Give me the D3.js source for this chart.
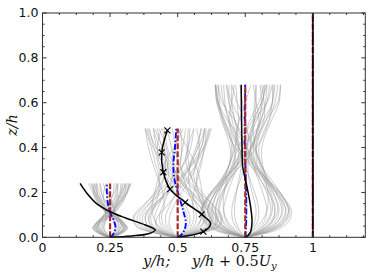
<!DOCTYPE html>
<html>
<head>
<meta charset="utf-8">
<script src="https://cdn.jsdelivr.net/npm/d3@7"></script>
<style>
  body { margin: 0; background: #fff; }
  svg { display: block; }
  .tick-label { font-family: "DejaVu Sans", sans-serif; font-size: 12.5px; fill: #111; }
  .math { font-family: "DejaVu Serif", serif; font-style: italic; font-size: 14.5px; fill: #111; }
</style>
</head>
<body>
<svg id="chart" width="374" height="280"></svg>
<script>
// profile stations (y/h) and their heights (z/h)
var centers = [0.25, 0.5, 0.75, 1.0];
var heights = [0.24, 0.485, 0.68, 1.0];

var xTicks = [0, 0.25, 0.5, 0.75, 1];
var xTickLabels = ["0", "0.25", "0.5", "0.75", "1"];
var yTicks = [0, 0.2, 0.4, 0.6, 0.8, 1.0];
var yTickLabels = ["0.0", "0.2", "0.4", "0.6", "0.8", "1.0"];

// gray realisations: offsets from the station, at the listed z levels
var grayZ1 = [0, 0.015, 0.04, 0.065, 0.09, 0.115, 0.15, 0.19, 0.24];
var grayDx1 = [
  [0, -.03, -.055, -.045, -.02, .005, .03, .05, .065],
  [0, .03, .058, .05, .025, -.005, -.03, -.05, -.07],
  [0, -.025, -.045, -.035, -.012, .01, .025, .035, .04],
  [0, .025, .048, .04, .018, -.008, -.025, -.038, -.05],
  [0, .035, .06, .045, .015, .01, .03, .055, .075],
  [0, -.035, -.06, -.048, -.02, -.015, -.035, -.055, -.072],
  [0, .02, .035, .03, .02, .012, .02, .04, .06],
  [0, -.02, -.035, -.028, -.015, -.018, -.04, -.06, -.08],
  [0, .028, .05, .035, .005, -.018, -.04, -.055, -.06],
  [0, -.028, -.05, -.035, -.005, .018, .04, .058, .07],
  [0, .015, .03, .028, .012, -.005, .01, .025, .03],
  [0, -.015, -.03, -.025, -.01, .005, -.012, -.03, -.04],
  [0, .032, .055, .04, .01, -.02, -.045, -.06, -.062],
  [0, -.03, -.052, -.04, -.012, .02, .045, .06, .078],
  [0, .022, .04, .038, .028, .02, .01, -.01, -.025],
  [0, -.022, -.04, -.038, -.026, -.02, -.008, .012, .03],
  [0, .036, .062, .052, .03, .008, -.015, -.03, -.035],
  [0, -.036, -.062, -.05, -.028, -.006, .015, .035, .05],
  [0, .01, .02, .015, .005, -.01, -.025, -.045, -.058],
  [0, -.01, -.022, -.018, -.006, .01, .028, .045, .055],
  [0, .03, .052, .045, .022, .012, .025, .04, .045],
  [0, -.026, -.048, -.042, -.025, -.01, .005, .02, .022],
  [0, .018, .04, .042, .03, .015, .005, -.005, -.01],
  [0, -.018, -.042, -.044, -.03, -.012, -.002, .01, .015],
  [0, .04, .065, .05, .02, -.012, -.035, -.05, -.052],
  [0, -.04, -.065, -.052, -.022, .012, .035, .052, .058],
  [0, .012, .025, .02, .008, .015, .035, .06, .072],
  [0, -.012, -.025, -.02, -.01, -.015, -.03, -.045, -.05],
  [0, .026, .05, .048, .03, .005, -.02, -.025, -.015],
  [0, -.03, -.056, -.05, -.03, -.004, .018, .028, .025]
];

var grayZ2 = [0, 0.02, 0.05, 0.09, 0.14, 0.2, 0.27, 0.34, 0.41, 0.485];
var grayDx2 = [
  [0, -.06, -.11, -.12, -.09, -.04, .01, .05, .08, .1],
  [0, .06, .115, .125, .095, .045, -.01, -.05, -.085, -.11],
  [0, -.05, -.09, -.1, -.085, -.07, -.07, -.085, -.1, -.12],
  [0, .05, .09, .1, .09, .075, .07, .085, .105, .125],
  [0, .08, .14, .15, .12, .07, .02, -.02, -.04, -.05],
  [0, -.08, -.14, -.15, -.115, -.06, -.01, .03, .05, .06],
  [0, .03, .06, .07, .06, .04, .02, .01, .02, .03],
  [0, -.03, -.06, -.068, -.055, -.035, -.02, -.015, -.025, -.04],
  [0, .065, .12, .13, .1, .05, .005, -.03, -.06, -.075],
  [0, -.065, -.12, -.13, -.095, -.04, .015, .06, .09, .1],
  [0, .04, .075, .085, .07, .05, .04, .05, .07, .09],
  [0, -.04, -.075, -.085, -.07, -.05, -.035, -.04, -.06, -.085],
  [0, .07, .13, .14, .11, .08, .06, .07, .09, .1],
  [0, -.07, -.13, -.14, -.11, -.08, -.065, -.075, -.09, -.105],
  [0, .02, .04, .045, .03, .005, -.03, -.06, -.08, -.09],
  [0, -.02, -.04, -.045, -.03, -.005, .025, .055, .075, .085],
  [0, .055, .1, .105, .08, .04, 0, -.02, -.01, .01],
  [0, -.055, -.1, -.105, -.08, -.045, -.005, .025, .04, .045],
  [0, .085, .15, .16, .13, .09, .05, .03, .04, .06],
  [0, -.085, -.15, -.16, -.125, -.085, -.05, -.035, -.045, -.07],
  [0, .035, .07, .09, .095, .09, .08, .06, .03, 0],
  [0, -.035, -.07, -.09, -.095, -.085, -.07, -.045, -.01, .02],
  [0, .075, .135, .145, .11, .055, 0, -.04, -.07, -.09],
  [0, -.045, -.08, -.075, -.04, 0, .04, .075, .1, .115],
  [0, .045, .085, .1, .08, .03, -.02, -.06, -.095, -.115],
  [0, -.05, -.095, -.11, -.085, -.03, .02, .065, .1, .12],
  [0, .025, .05, .06, .055, .06, .075, .09, .1, .105],
  [0, -.025, -.05, -.06, -.05, -.055, -.075, -.095, -.11, -.12],
  [0, .09, .155, .165, .135, .08, .03, 0, -.01, -.02],
  [0, -.09, -.155, -.165, -.13, -.075, -.02, .01, .015, .01],
  [0, .015, .03, .035, .02, -.01, -.045, -.07, -.075, -.06],
  [0, -.015, -.03, -.03, -.015, .015, .05, .075, .08, .07],
  [0, .06, .11, .12, .1, .07, .05, .04, .035, .04],
  [0, -.06, -.11, -.12, -.1, -.07, -.05, -.045, -.05, -.055]
];

var grayZ3 = [0, 0.03, 0.07, 0.12, 0.18, 0.25, 0.32, 0.39, 0.46, 0.53, 0.6, 0.68];
var grayDx3 = [
  [0, -.07, -.12, -.14, -.12, -.08, -.04, -.01, .03, .07, .1, .11],
  [0, .07, .12, .14, .125, .085, .04, .01, -.03, -.07, -.1, -.11],
  [0, -.06, -.1, -.12, -.11, -.085, -.06, -.05, -.06, -.08, -.1, -.105],
  [0, .06, .1, .12, .11, .085, .06, .05, .065, .09, .11, .12],
  [0, .09, .14, .16, .14, .09, .03, -.02, -.05, -.06, -.05, -.04],
  [0, -.09, -.14, -.16, -.14, -.09, -.03, .02, .05, .07, .07, .06],
  [0, .04, .07, .08, .07, .05, .03, .02, .025, .035, .04, .04],
  [0, -.04, -.07, -.08, -.07, -.05, -.03, -.025, -.03, -.04, -.05, -.05],
  [0, .08, .13, .15, .13, .08, .03, 0, 0, .02, .05, .07],
  [0, -.08, -.13, -.15, -.13, -.08, -.03, .005, .01, -.005, -.03, -.05],
  [0, .05, .085, .1, .095, .07, .045, .04, .055, .08, .1, .105],
  [0, -.05, -.085, -.1, -.09, -.065, -.04, -.04, -.06, -.085, -.1, -.11],
  [0, .1, .15, .165, .14, .1, .06, .04, .05, .08, .12, .13],
  [0, -.1, -.15, -.16, -.135, -.095, -.06, -.045, -.055, -.08, -.105, -.11],
  [0, .025, .045, .05, .04, .02, 0, -.02, -.045, -.065, -.075, -.08],
  [0, -.025, -.045, -.05, -.04, -.02, 0, .02, .045, .06, .075, .08],
  [0, .065, .11, .125, .11, .075, .04, .03, .04, .05, .04, .03],
  [0, -.065, -.11, -.125, -.11, -.075, -.045, -.035, -.035, -.02, 0, .02],
  [0, .11, .16, .17, .14, .09, .045, .02, .02, .035, .06, .08],
  [0, -.11, -.155, -.165, -.14, -.09, -.045, -.015, 0, 0, -.01, -.02],
  [0, .03, .06, .08, .085, .075, .055, .035, .01, -.02, -.05, -.07],
  [0, -.035, -.065, -.08, -.08, -.07, -.05, -.03, 0, .03, .06, .075],
  [0, .085, .135, .15, .125, .075, .02, -.03, -.065, -.085, -.095, -.1],
  [0, -.075, -.125, -.14, -.12, -.07, -.015, .035, .07, .09, .1, .1],
  [0, .055, .095, .11, .1, .08, .065, .06, .075, .1, .125, .13],
  [0, -.055, -.095, -.11, -.1, -.08, -.06, -.055, -.07, -.09, -.105, -.112],
  [0, .045, .08, .095, .085, .06, .03, .005, -.02, -.04, -.06, -.07],
  [0, -.045, -.08, -.095, -.085, -.06, -.03, -.005, .02, .045, .065, .07],
  [0, .095, .145, .16, .135, .085, .035, .01, .015, .04, .08, .1],
  [0, -.095, -.145, -.16, -.135, -.085, -.035, -.01, -.015, -.045, -.085, -.1],
  [0, .02, .035, .04, .03, .015, .01, .02, .04, .06, .08, .09],
  [0, -.02, -.035, -.04, -.035, -.025, -.015, -.02, -.04, -.06, -.08, -.09],
  [0, .075, .12, .135, .12, .09, .06, .04, .03, .03, .035, .04],
  [0, -.075, -.12, -.135, -.12, -.09, -.06, -.04, -.03, -.025, -.03, -.035],
  [0, .06, .1, .11, .095, .06, .02, -.01, -.035, -.05, -.06, -.06],
  [0, -.06, -.1, -.11, -.095, -.06, -.02, .015, .04, .055, .06, .055]
];

// mean profiles [y/h, z/h]
var blue1 = [[0.25, 0], [0.262, 0.015], [0.27, 0.045], [0.262, 0.08], [0.25, 0.11], [0.242, 0.15], [0.238, 0.2], [0.238, 0.24]];
var blue2 = [[0.5, 0], [0.52, 0.02], [0.53, 0.06], [0.52, 0.12], [0.503, 0.19], [0.488, 0.26], [0.484, 0.32], [0.49, 0.4], [0.495, 0.485]];
var blue3 = [[0.75, 0], [0.753, 0.05], [0.754, 0.15], [0.751, 0.3], [0.748, 0.45], [0.75, 0.68]];
var blue4 = [[1, 0], [1, 1]];

var black1 = [[0.25, 0], [0.33, 0.006], [0.395, 0.017], [0.417, 0.033], [0.38, 0.055], [0.31, 0.085], [0.25, 0.114], [0.2, 0.15], [0.165, 0.195], [0.139, 0.24]];
var black2 = [[0.5, 0], [0.595, 0.025], [0.622, 0.06], [0.589, 0.102], [0.528, 0.156], [0.472, 0.215], [0.447, 0.29], [0.441, 0.379], [0.462, 0.477]];
var black2Marked = [false, true, false, true, true, true, true, true, true];
var black3 = [[0.75, 0], [0.768, 0.02], [0.775, 0.07], [0.768, 0.15], [0.752, 0.25], [0.741, 0.31], [0.738, 0.4], [0.736, 0.55], [0.735, 0.68]];
var black4 = [[1, 0], [1, 1]];

var svg = d3.select("#chart");
var x = d3.scaleLinear().domain([0, 1.194]).range([42.5, 365.3]);
var y = d3.scaleLinear().domain([0, 1]).range([237.3, 13]);

var line = d3.line()
    .x((d) => x(d[0]))
    .y((d) => y(d[1]))
    .curve(d3.curveCatmullRom.alpha(0.5));

var plot = svg.append("g").attr("class", "plot");

// gray ensemble
var grayGroups = [[grayZ1, grayDx1, centers[0]], [grayZ2, grayDx2, centers[1]], [grayZ3, grayDx3, centers[2]]];
grayGroups.forEach(function(g) {
  var zs = g[0], x0 = g[2];
  plot.append("g").selectAll("path")
      .data(g[1])
      .enter()
      .append("path")
      .attr("d", (dx) => line(dx.map((v, i) => [x0 + v, zs[i]])))
      .attr("fill", "none")
      .attr("stroke", "#999")
      .attr("stroke-opacity", 0.5)
      .attr("stroke-width", 1);
});

// blue dash-dot
plot.append("g").selectAll("path")
    .data([blue1, blue2, blue3, blue4])
    .enter()
    .append("path")
    .attr("d", line)
    .attr("fill", "none")
    .attr("stroke", "#0000ff")
    .attr("stroke-width", 1.8)
    .attr("stroke-dasharray", "6,2,1.5,2");

// red dashed, straight at each station
plot.append("g").selectAll("line")
    .data(centers.map((c, i) => [c, heights[i]]))
    .enter()
    .append("line")
    .attr("x1", (d) => x(d[0]))
    .attr("x2", (d) => x(d[0]))
    .attr("y1", y(0))
    .attr("y2", (d) => y(d[1]))
    .attr("stroke", "#a52a2a")
    .attr("stroke-width", 2.2)
    .attr("stroke-dasharray", "6,2");

// black
plot.append("g").selectAll("path")
    .data([black1, black2, black3, black4])
    .enter()
    .append("path")
    .attr("d", line)
    .attr("fill", "none")
    .attr("stroke", "#000")
    .attr("stroke-width", (d, i) => i === 3 ? 1.3 : 1.5);

// x markers on the middle black profile
var ms = 3;
var marks = plot.append("g").selectAll("g")
    .data(black2.filter((d, i) => black2Marked[i]))
    .enter()
    .append("g")
    .attr("transform", (d) => `translate(${x(d[0])},${y(d[1])})`);
marks.append("line").attr("x1", -ms).attr("y1", -ms).attr("x2", ms).attr("y2", ms);
marks.append("line").attr("x1", -ms).attr("y1", ms).attr("x2", ms).attr("y2", -ms);
marks.selectAll("line").attr("stroke", "#000").attr("stroke-width", 1.1);

// frame + ticks (inward, all four sides)
var axes = svg.append("g").attr("class", "axes");
var x0 = x.range()[0], x1 = x.range()[1], y0 = y.range()[0], y1 = y.range()[1];

axes.append("rect")
    .attr("x", x0).attr("y", y1)
    .attr("width", x1 - x0).attr("height", y0 - y1)
    .attr("fill", "none")
    .attr("stroke", "#333")
    .attr("stroke-width", 1);

var xMinor = d3.range(0, 1.19, 0.0625).filter((v) => xTicks.indexOf(v) < 0);
var yMinor = d3.range(0, 1.001, 0.05).filter((v) => Math.abs(v * 5 - Math.round(v * 5)) > 1e-6);

function xTickMarks(vals, len) {
  vals.forEach(function(v) {
    axes.append("line").attr("x1", x(v)).attr("x2", x(v)).attr("y1", y0).attr("y2", y0 - len);
    axes.append("line").attr("x1", x(v)).attr("x2", x(v)).attr("y1", y1).attr("y2", y1 + len);
  });
}
function yTickMarks(vals, len) {
  vals.forEach(function(v) {
    axes.append("line").attr("y1", y(v)).attr("y2", y(v)).attr("x1", x0).attr("x2", x0 + len);
    axes.append("line").attr("y1", y(v)).attr("y2", y(v)).attr("x1", x1).attr("x2", x1 - len);
  });
}
xTickMarks(xTicks, 4);
xTickMarks(xMinor, 2);
yTickMarks(yTicks, 4);
yTickMarks(yMinor, 2);
axes.selectAll("line").attr("stroke", "#333").attr("stroke-width", 1);

axes.selectAll(".xl")
    .data(xTicks)
    .enter()
    .append("text")
    .attr("class", "tick-label xl")
    .attr("x", (d) => x(d))
    .attr("y", 251.5)
    .attr("text-anchor", "middle")
    .text((d, i) => xTickLabels[i]);

axes.selectAll(".yl")
    .data(yTicks)
    .enter()
    .append("text")
    .attr("class", "tick-label yl")
    .attr("x", 38.5)
    .attr("y", (d) => y(d) + 4.3)
    .attr("text-anchor", "end")
    .text((d, i) => yTickLabels[i]);

// axis titles
svg.append("text")
    .attr("class", "math")
    .attr("x", 143)
    .attr("y", 266)
    .text("y/h;");

var xt = svg.append("text")
    .attr("class", "math")
    .attr("x", 192)
    .attr("y", 266);
xt.append("tspan").text("y/h");
xt.append("tspan").attr("font-style", "normal").text(" + 0.5");
xt.append("tspan").text("U");
xt.append("tspan").attr("font-size", "10px").attr("dy", 3).text("y");

svg.append("text")
    .attr("class", "math")
    .attr("transform", "translate(17,125) rotate(-90)")
    .attr("text-anchor", "middle")
    .text("z/h");
</script>
</body>
</html>
